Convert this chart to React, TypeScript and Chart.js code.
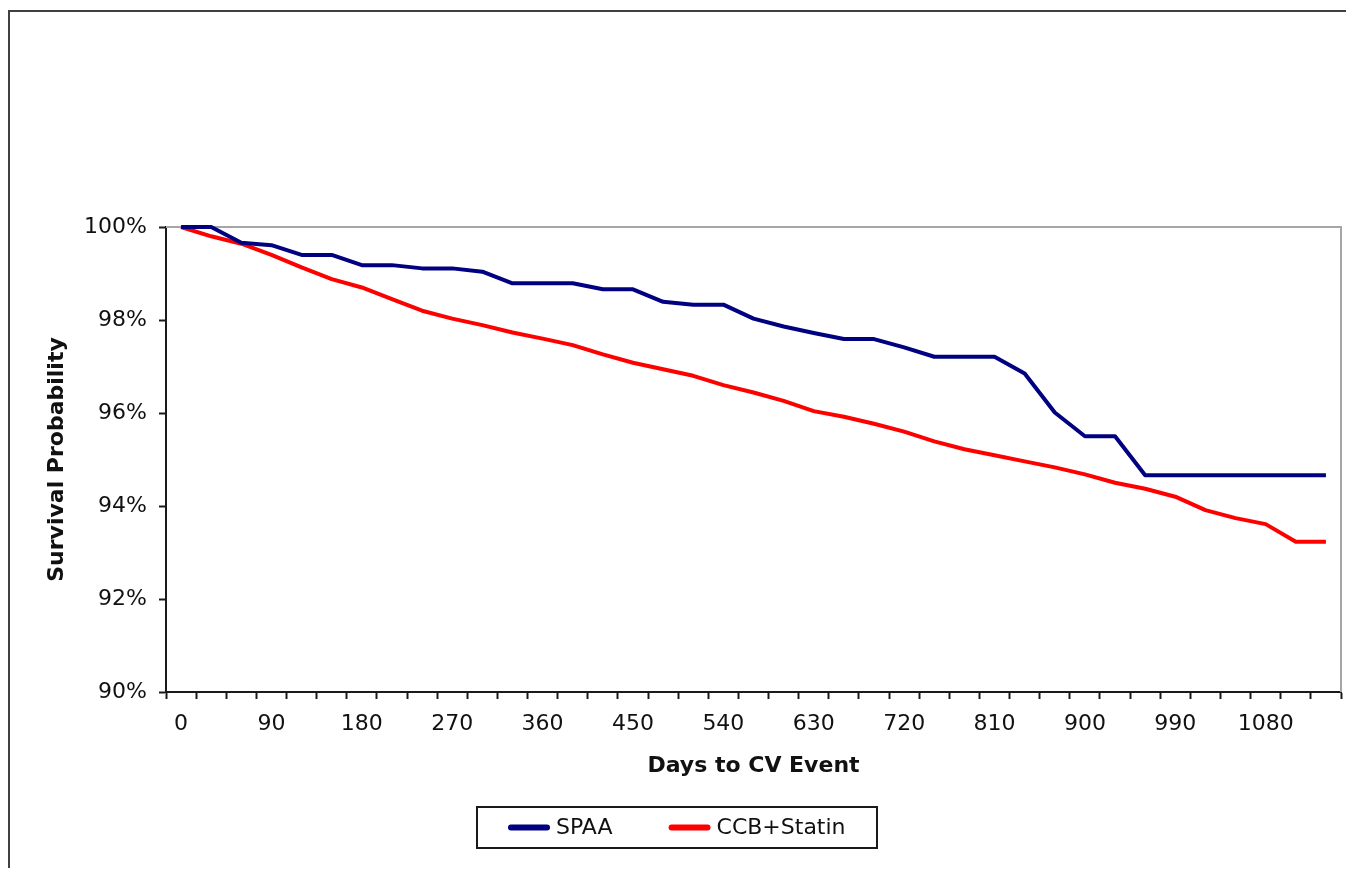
import React, { useEffect, useRef } from 'react';
import { Chart, registerables } from 'chart.js';

Chart.register(...registerables);

// ---- data ----
const days = [
  0, 30, 60, 90, 120, 150, 180, 210, 240, 270, 300, 330, 360, 390, 420, 450, 480, 510, 540, 570,
  600, 630, 660, 690, 720, 750, 780, 810, 840, 870, 900, 930, 960, 990, 1020, 1050, 1080, 1110, 1140,
];
const labeledDays = [0, 90, 180, 270, 360, 450, 540, 630, 720, 810, 900, 990, 1080];
const spaa = [
  100, 100, 99.66, 99.61, 99.4, 99.4, 99.18, 99.18, 99.11, 99.11, 99.04, 98.79, 98.79, 98.79, 98.66,
  98.66, 98.39, 98.33, 98.33, 98.03, 97.86, 97.72, 97.59, 97.59, 97.41, 97.21, 97.21, 97.21, 96.85,
  96.01, 95.5, 95.5, 94.66, 94.66, 94.66, 94.66, 94.66, 94.66, 94.66,
];
const ccbStatin = [
  100, 99.8, 99.64, 99.4, 99.13, 98.88, 98.7, 98.45, 98.2, 98.03, 97.89, 97.73, 97.6, 97.46, 97.26,
  97.08, 96.94, 96.8, 96.6, 96.44, 96.26, 96.04, 95.92, 95.77, 95.6, 95.39, 95.22, 95.09, 94.96,
  94.83, 94.68, 94.5, 94.37, 94.2, 93.91, 93.74, 93.61, 93.23, 93.23,
];
const seriesNames = ['SPAA', 'CCB+Statin'];
const seriesColors = ['#000080', '#FF0000'];
const yMin = 90;
const yMax = 100;
const yStep = 2;
const xTitle = 'Days to CV Event';
const yTitle = 'Survival Probability';

const FONT = "'DejaVu Sans', Verdana, sans-serif";

const framePlugin = {
  id: 'plotFrame',
  beforeDatasetsDraw(chart: any) {
    const { ctx, chartArea } = chart;
    ctx.save();
    ctx.strokeStyle = '#a6a6a6';
    ctx.lineWidth = 2;
    ctx.beginPath();
    ctx.moveTo(chartArea.left, chartArea.top);
    ctx.lineTo(chartArea.right, chartArea.top);
    ctx.lineTo(chartArea.right, chartArea.bottom);
    ctx.stroke();
    ctx.restore();
  },
};

const legendPlugin = {
  id: 'boxedLegend',
  afterDraw(chart: any) {
    const { ctx, chartArea } = chart;
    ctx.save();
    ctx.font = `22px ${FONT}`;
    const lineLen = 42;
    const gapText = 6;
    const itemGap = 56;
    const padX = 31;
    const items = chart.data.datasets.map((ds: any) => ({
      label: ds.label as string,
      color: ds.borderColor as string,
      w: ctx.measureText(ds.label).width,
    }));
    const contentW = items.reduce(
      (s: number, it: any, i: number) => s + lineLen + gapText + it.w + (i > 0 ? itemGap : 0),
      0
    );
    const boxW = contentW + 2 * padX;
    const boxH = 41;
    const cx = chart.width / 2;
    const boxTop = chartArea.bottom + 115;
    const left = Math.round(cx - boxW / 2);
    ctx.lineWidth = 2;
    ctx.strokeStyle = '#1a1a1a';
    ctx.strokeRect(left, boxTop, Math.round(boxW), boxH);
    const cy = boxTop + boxH / 2;
    let x = left + padX;
    items.forEach((it: any, i: number) => {
      if (i > 0) x += itemGap;
      ctx.strokeStyle = it.color;
      ctx.lineWidth = 6;
      ctx.lineCap = 'round';
      ctx.beginPath();
      ctx.moveTo(x + 3, cy);
      ctx.lineTo(x + lineLen - 3, cy);
      ctx.stroke();
      ctx.fillStyle = '#111';
      ctx.textBaseline = 'middle';
      ctx.textAlign = 'left';
      ctx.fillText(it.label, x + lineLen + gapText, cy + 1);
      x += lineLen + gapText + it.w;
    });
    ctx.restore();
  },
};

export default function App() {
  const canvasRef = useRef<HTMLCanvasElement | null>(null);

  useEffect(() => {
    if (!canvasRef.current) return;
    const chart = new Chart(canvasRef.current, {
      type: 'line',
      data: {
        labels: days,
        datasets: [
          {
            label: seriesNames[0],
            data: spaa,
            borderColor: seriesColors[0],
            backgroundColor: seriesColors[0],
            borderWidth: 4,
            pointRadius: 0,
            tension: 0,
            fill: false,
            clip: false as any,
            borderJoinStyle: 'round',
          },
          {
            label: seriesNames[1],
            data: ccbStatin,
            borderColor: seriesColors[1],
            backgroundColor: seriesColors[1],
            borderWidth: 4,
            pointRadius: 0,
            tension: 0,
            fill: false,
            clip: false as any,
            borderJoinStyle: 'round',
          },
        ],
      },
      options: {
        responsive: false,
        animation: false,
        devicePixelRatio: 1,
        layout: { padding: { top: 215, right: 2, bottom: 75, left: 0 } },
        plugins: {
          legend: { display: false },
          tooltip: { enabled: false },
        },
        scales: {
          x: {
            type: 'category',
            offset: true,
            afterFit(scale: any) {
              scale.height = 100;
            },
            grid: {
              display: true,
              offset: true,
              drawOnChartArea: false,
              drawTicks: true,
              tickLength: 7,
              tickWidth: 2,
              tickColor: '#1a1a1a',
            },
            border: { display: true, color: '#1a1a1a', width: 2 },
            ticks: {
              autoSkip: false,
              maxRotation: 0,
              minRotation: 0,
              padding: 12,
              color: '#111',
              font: { family: FONT, size: 22 },
              callback(_v: any, idx: number) {
                const d = days[idx];
                return labeledDays.includes(d) ? String(d) : '';
              },
            },
            title: {
              display: true,
              text: xTitle,
              color: '#111',
              font: { family: FONT, size: 22, weight: 'bold' },
              padding: { top: 0, bottom: 13 },
            },
          },
          y: {
            min: yMin,
            max: yMax,
            afterFit(scale: any) {
              scale.width = 156;
            },
            grid: {
              display: true,
              drawOnChartArea: false,
              drawTicks: true,
              tickLength: 7,
              tickWidth: 2,
              tickColor: '#1a1a1a',
            },
            border: { display: true, color: '#1a1a1a', width: 2 },
            ticks: {
              stepSize: yStep,
              padding: 12,
              color: '#111',
              font: { family: FONT, size: 22 },
              callback(v: any) {
                return `${v}%`;
              },
            },
            title: {
              display: true,
              text: yTitle,
              color: '#111',
              font: { family: FONT, size: 22, weight: 'bold' },
              padding: { top: 34, bottom: 0 },
            },
          },
        },
      } as any,
      plugins: [framePlugin, legendPlugin],
    });
    return () => chart.destroy();
  }, []);

  return (
    <div
      style={{
        position: 'relative',
        top: 2,
        width: 1344,
        height: 858,
        borderLeft: '2px solid #404040',
        borderTop: '2px solid #404040',
        background: '#fff',
      }}
    >
      <canvas ref={canvasRef} width={1333} height={855} style={{ display: 'block' }} />
    </div>
  );
}
